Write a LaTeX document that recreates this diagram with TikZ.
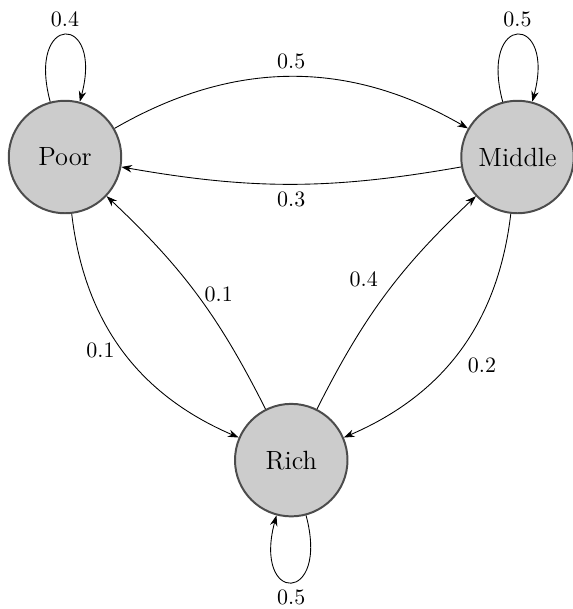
\documentclass[tikz,border=0pt]{standalone}
\usepackage{amsmath, amsfonts, amssymb}
\usetikzlibrary{arrows.meta}

\begin{document}
\begin{tikzpicture}[>={Stealth[length=1.7mm,width=1.2mm]},
    state/.style={circle, draw=black!70, line width=0.9pt, fill=black!20,
      minimum size=1.8cm, inner sep=0pt, font=\large},
    every loop/.style={}]
        \def\vardx{7.24} \def\varhx{3.62} \def\vardy{4.85}%

        \useasboundingbox (-1.04,2.512) rectangle (8.112,-7.232);%

        \node[state] (Poor) at (0,0) {Poor};%
        \node[state] (Middle) at (\vardx,0) {Middle};%
        \node[state] (Rich) at (\varhx,-\vardy) {Rich};%

        % self loops
        \path[->] (Poor) edge[loop above] node[above] {0.4} (Poor)%
                  (Middle) edge[loop above] node[above] {0.5} (Middle)%
                  (Rich) edge[loop below] node[below] {0.5} (Rich);%

        % transitions
        \path[->] (Poor) edge[bend left=30] node[above] {0.5} (Middle)%
                  (Middle) edge[bend left=10] node[below] {0.3} (Poor)%
                  (Poor) edge[bend right=30] node[left] {0.1} (Rich)%
                  (Rich) edge[bend right=10] node[right] {0.1} (Poor)%
                  (Rich) edge[bend left=10] node[above left] {0.4} (Middle)%
                  (Middle) edge[bend left=30] node[below right] {0.2} (Rich);%
      \end{tikzpicture}
\end{document}
